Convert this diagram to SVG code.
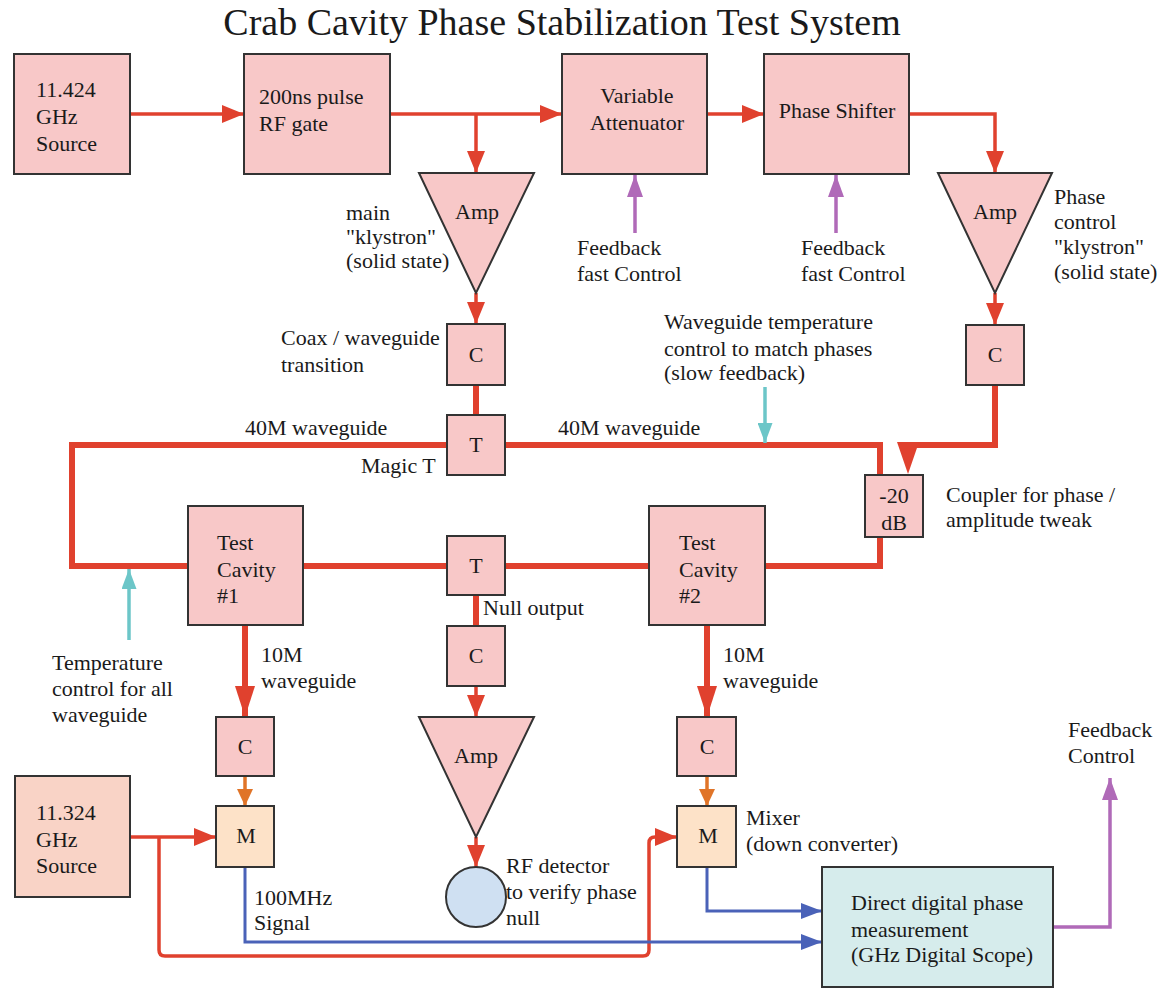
<svg xmlns="http://www.w3.org/2000/svg" width="1160" height="990" viewBox="0 0 1160 990">
<style>
.box{fill:#f8c8c8;stroke:#333;stroke-width:2}
text{font-family:'Liberation Serif','Times New Roman',serif;font-size:22px;fill:#1a1a1a}
.c{text-anchor:middle}
.red{stroke:#e0412e;stroke-width:3.5;fill:none}
.wg{stroke:#e0412e;stroke-width:6;fill:none}
.pur{stroke:#b06ab8;stroke-width:3.5;fill:none}
.cy{stroke:#6cc6c8;stroke-width:3.5;fill:none}
.blu{stroke:#4a62b8;stroke-width:3;fill:none}
.org{stroke:#e07428;stroke-width:3.5;fill:none}
</style>
<defs>
<marker id="aR" markerUnits="userSpaceOnUse" viewBox="0 0 22 18" markerWidth="22" markerHeight="18" refX="22" refY="9" orient="auto"><path d="M0,0L22,9L0,18z" fill="#e0412e"/></marker>
<marker id="aRT" markerUnits="userSpaceOnUse" viewBox="0 0 31 20" markerWidth="31" markerHeight="20" refX="31" refY="10" orient="auto"><path d="M0,0L31,10L0,20z" fill="#e0412e"/></marker>
<marker id="aP" markerUnits="userSpaceOnUse" viewBox="0 0 22 16" markerWidth="22" markerHeight="16" refX="22" refY="8" orient="auto"><path d="M0,0L22,8L0,16z" fill="#b06ab8"/></marker>
<marker id="aC" markerUnits="userSpaceOnUse" viewBox="0 0 20 15" markerWidth="20" markerHeight="15" refX="20" refY="7.5" orient="auto"><path d="M0,0L20,7.5L0,15z" fill="#6cc6c8"/></marker>
<marker id="aB" markerUnits="userSpaceOnUse" viewBox="0 0 21 16" markerWidth="21" markerHeight="16" refX="21" refY="8" orient="auto"><path d="M0,0L21,8L0,16z" fill="#4a62b8"/></marker>
<marker id="aO" markerUnits="userSpaceOnUse" viewBox="0 0 17 16" markerWidth="17" markerHeight="16" refX="17" refY="8" orient="auto"><path d="M0,0L17,8L0,16z" fill="#e07428"/></marker>
</defs>
<rect width="1160" height="990" fill="#fff"/>
<g font-family="Liberation Serif, Times New Roman, serif" font-size="22">
<text x="562" y="35" class="c" font-size="38" style="font-size:38px">Crab Cavity Phase Stabilization Test System</text>

<g id="connectors">
<line x1="130" y1="114" x2="244" y2="114" class="red" marker-end="url(#aR)"/>
<line x1="390" y1="114" x2="562" y2="114" class="red" marker-end="url(#aR)"/>
<line x1="476" y1="114" x2="476" y2="173" class="red" marker-end="url(#aR)"/>
<line x1="707" y1="114" x2="764" y2="114" class="red" marker-end="url(#aR)"/>
<path d="M909,114H995V173" class="red" marker-end="url(#aR)"/>
<line x1="476" y1="293" x2="476" y2="324" class="red" marker-end="url(#aR)"/>
<line x1="995" y1="293" x2="995" y2="325" class="red" marker-end="url(#aR)"/>
<line x1="476" y1="385" x2="476" y2="415" class="wg"/>
<path d="M447,445H72V566H188" class="wg"/>
<path d="M505,445H880V475" class="wg"/>
<path d="M880,537V566H765" class="wg"/>
<line x1="303" y1="566" x2="447" y2="566" class="wg"/>
<line x1="505" y1="566" x2="649" y2="566" class="wg"/>
<path d="M995,385V445H908V450" class="wg"/>
<polygon points="897,442 919,442 908,474" fill="#e0412e"/>
<line x1="476" y1="595" x2="476" y2="626" class="wg"/>
<line x1="476" y1="686" x2="476" y2="717" class="red" marker-end="url(#aR)"/>
<line x1="476" y1="837" x2="476" y2="867" class="red" marker-end="url(#aR)"/>
<line x1="245" y1="625" x2="245" y2="717" class="wg" marker-end="url(#aRT)"/>
<line x1="707" y1="625" x2="707" y2="717" class="wg" marker-end="url(#aRT)"/>
<line x1="245" y1="776" x2="245" y2="806" class="org" marker-end="url(#aO)"/>
<line x1="707" y1="776" x2="707" y2="806" class="org" marker-end="url(#aO)"/>
<line x1="130" y1="837" x2="216" y2="837" class="red" marker-end="url(#aR)"/>
<path d="M159,837V950Q159,956 165,956H643Q649,956 649,950V843Q649,837 655,837H677" class="red" marker-end="url(#aR)"/>
<path d="M245,867V942H822" class="blu" marker-end="url(#aB)"/>
<path d="M707,867V911H822" class="blu" marker-end="url(#aB)"/>
<path d="M1053,927H1110V778" class="pur" marker-end="url(#aP)"/>
<line x1="635" y1="233" x2="635" y2="175" class="pur" marker-end="url(#aP)"/>
<line x1="836" y1="233" x2="836" y2="175" class="pur" marker-end="url(#aP)"/>
<line x1="765" y1="387" x2="765" y2="443" class="cy" marker-end="url(#aC)"/>
<line x1="129" y1="640" x2="129" y2="569" class="cy" marker-end="url(#aC)"/>
</g>

<g id="source1"><rect x="14" y="54" width="116" height="120" class="box"/>
<text x="36" y="97">11.424</text><text x="36" y="124">GHz</text><text x="36" y="151">Source</text></g>
<g id="rfgate"><rect x="244" y="54" width="146" height="120" class="box"/>
<text x="259" y="104">200ns pulse</text><text x="259" y="131">RF gate</text></g>
<g id="attenuator"><rect x="562" y="54" width="145" height="120" class="box"/>
<text class="c" x="637" y="103">Variable</text><text class="c" x="637" y="130">Attenuator</text></g>
<g id="phaseshifter"><rect x="764" y="54" width="145" height="120" class="box"/>
<text class="c" x="837" y="118">Phase Shifter</text></g>

<g id="amp1"><polygon points="419,173 534,173 476,293" class="box"/>
<text class="c" x="477" y="219">Amp</text></g>
<g id="amp2"><polygon points="938,173 1052,173 995,293" class="box"/>
<text class="c" x="995" y="219">Amp</text></g>

<g id="label-main"><text x="346" y="220">main</text><text x="346" y="244">"klystron"</text><text x="346" y="268">(solid state)</text></g>
<g id="label-phasectl"><text x="1054" y="204">Phase</text><text x="1054" y="229">control</text><text x="1054" y="254">"klystron"</text><text x="1054" y="279">(solid state)</text></g>
<g id="label-fb1"><text x="577" y="255">Feedback</text><text x="577" y="281">fast Control</text></g>
<g id="label-fb2"><text x="801" y="255">Feedback</text><text x="801" y="281">fast Control</text></g>

<g id="c1"><rect x="447" y="324" width="58" height="61" class="box"/><text class="c" x="476" y="362">C</text></g>
<g id="label-coax"><text x="281" y="345">Coax / waveguide</text><text x="281" y="372">transition</text></g>
<g id="c2"><rect x="966" y="325" width="58" height="60" class="box"/><text class="c" x="995" y="362">C</text></g>
<g id="label-wgtemp"><text x="664" y="329">Waveguide temperature</text><text x="664" y="356">control to match phases</text><text x="664" y="380">(slow feedback)</text></g>

<g id="magict"><rect x="447" y="415" width="58" height="60" class="box"/><text class="c" x="476" y="452">T</text></g>
<g id="label-40m"><text x="245" y="435">40M waveguide</text><text x="558" y="435">40M waveguide</text><text x="361" y="473">Magic T</text></g>

<g id="coupler"><rect x="865" y="475" width="58" height="62" class="box"/><text class="c" x="894" y="503">-20</text><text class="c" x="894" y="530">dB</text></g>
<g id="label-coupler"><text x="946" y="502">Coupler for phase /</text><text x="946" y="527">amplitude tweak</text></g>

<g id="cavity1"><rect x="188" y="506" width="115" height="119" class="box"/>
<text x="217" y="550">Test</text><text x="217" y="577">Cavity</text><text x="217" y="603">#1</text></g>
<g id="t2"><rect x="447" y="536" width="58" height="59" class="box"/><text class="c" x="476" y="573">T</text></g>
<g id="cavity2"><rect x="649" y="506" width="116" height="119" class="box"/>
<text x="679" y="550">Test</text><text x="679" y="577">Cavity</text><text x="679" y="603">#2</text></g>
<g id="label-null"><text x="483" y="615">Null output</text></g>
<g id="label-tempall"><text x="52" y="670">Temperature</text><text x="52" y="696">control for all</text><text x="52" y="722">waveguide</text></g>

<g id="label-10m1"><text x="261" y="662">10M</text><text x="261" y="688">waveguide</text></g>
<g id="label-10m2"><text x="723" y="662">10M</text><text x="723" y="688">waveguide</text></g>

<g id="c3"><rect x="447" y="626" width="58" height="60" class="box"/><text class="c" x="476" y="663">C</text></g>
<g id="amp3"><polygon points="419,717 534,717 476,837" class="box"/><text class="c" x="476" y="763">Amp</text></g>
<g id="detector"><circle cx="476" cy="897" r="30" fill="#cfe0f2" stroke="#333" stroke-width="2"/></g>
<g id="label-det"><text x="506" y="873">RF detector</text><text x="506" y="899">to verify phase</text><text x="506" y="925">null</text></g>

<g id="c4"><rect x="216" y="717" width="58" height="59" class="box"/><text class="c" x="245" y="754">C</text></g>
<g id="c5"><rect x="677" y="717" width="59" height="59" class="box"/><text class="c" x="707" y="754">C</text></g>
<g id="mixer1"><rect x="216" y="806" width="58" height="61" fill="#fde2c8" stroke="#333" stroke-width="2"/><text class="c" x="246" y="843">M</text></g>
<g id="mixer2"><rect x="677" y="806" width="59" height="61" fill="#fde2c8" stroke="#333" stroke-width="2"/><text class="c" x="708" y="843">M</text></g>
<g id="label-mixer"><text x="746" y="825">Mixer</text><text x="746" y="851">(down converter)</text></g>

<g id="source2"><rect x="15" y="776" width="115" height="121" fill="#f9d3c6" stroke="#333" stroke-width="2"/>
<text x="36" y="820">11.324</text><text x="36" y="847">GHz</text><text x="36" y="873">Source</text></g>
<g id="label-100mhz"><text x="254" y="905">100MHz</text><text x="254" y="930">Signal</text></g>

<g id="ddp"><rect x="822" y="867" width="231" height="120" fill="#d6ecec" stroke="#333" stroke-width="2"/>
<text x="851" y="910">Direct digital phase</text><text x="851" y="937">measurement</text><text x="851" y="962">(GHz Digital Scope)</text></g>
<g id="label-fbctl"><text x="1068" y="737">Feedback</text><text x="1068" y="763">Control</text></g>
</g>
</svg>
